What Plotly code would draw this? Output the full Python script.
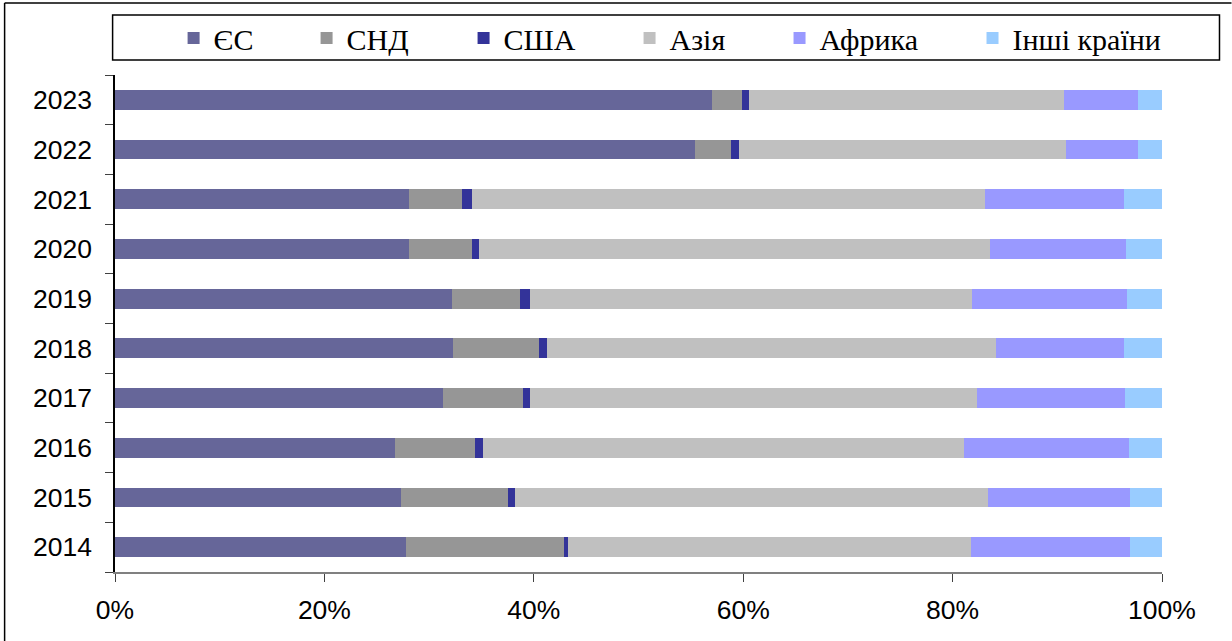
import plotly.graph_objects as go

years = ["2014", "2015", "2016", "2017", "2018", "2019", "2020", "2021", "2022", "2023"]
series_names = ["ЄС", "СНД", "США", "Азія", "Африка", "Інші країни"]

eu = [27.8, 27.3, 26.7, 31.3, 32.3, 32.2, 28.1, 28.1, 55.4, 57.0]
cis = [15.1, 10.2, 7.7, 7.7, 8.2, 6.5, 6.0, 5.0, 3.4, 2.9]
usa = [0.4, 0.7, 0.7, 0.6, 0.8, 0.9, 0.7, 1.0, 0.8, 0.7]
asia = [38.5, 45.2, 46.0, 42.7, 42.8, 42.3, 48.8, 49.0, 31.2, 30.0]
africa = [15.1, 13.5, 15.7, 14.2, 12.3, 14.8, 13.0, 13.3, 6.9, 7.1]
other = [3.1, 3.1, 3.2, 3.5, 3.6, 3.3, 3.4, 3.6, 2.3, 2.3]

x_ticks = [0, 20, 40, 60, 80, 100]
x_tick_labels = ["0%", "20%", "40%", "60%", "80%", "100%"]

colors = ["#666699", "#969696", "#333399", "#C0C0C0", "#9999FF", "#99CCFF"]

W, H = 1232, 641
L, R, T, B = 115.4, 1162.5, 75, 572
PW, PH = R - L, B - T


def px_x(px):
    return (px - L) / PW


def px_y(py):
    return 1 + (T - py) / PH


# left pixel position of each legend entry (one legend per series)
legend_px = [174, 307, 464, 630, 780, 973]
legend_ids = ["legend", "legend2", "legend3", "legend4", "legend5", "legend6"]

fig = go.Figure()
for name, vals, col, lid in zip(series_names, [eu, cis, usa, asia, africa, other], colors, legend_ids):
    fig.add_trace(go.Bar(
        y=years, x=vals, name=name, orientation="h",
        marker=dict(color=col, line=dict(width=0)),
        legend=lid,
    ))

legend_layouts = {}
for lid, lx in zip(legend_ids, legend_px):
    legend_layouts[lid] = dict(
        orientation="h",
        x=px_x(lx), xanchor="left",
        y=px_y(38), yanchor="middle",
        font=dict(family="Liberation Serif", size=30, color="black"),
        bgcolor="rgba(0,0,0,0)",
        borderwidth=0,
    )

fig.update_layout(
    width=W, height=H,
    margin=dict(l=L, r=W - R, t=T, b=H - B, pad=0),
    barmode="stack",
    bargap=0.6,
    plot_bgcolor="white",
    paper_bgcolor="white",
    showlegend=True,
    xaxis=dict(
        range=[0, 100],
        tickvals=x_ticks, ticktext=x_tick_labels,
        showgrid=False, zeroline=False,
        showline=True, linecolor="#808080", linewidth=1.5,
        ticks="outside", ticklen=8, tickcolor="#404040", tickwidth=1.2,
        tickfont=dict(family="Liberation Sans", size=26.5, color="black"),
        ticklabelstandoff=5,
        fixedrange=True,
    ),
    yaxis=dict(
        type="category",
        categoryorder="array", categoryarray=years,
        showgrid=False, zeroline=False,
        showline=True, linecolor="black", linewidth=1.5,
        ticks="outside", ticklen=8, tickcolor="#404040", tickwidth=1.2,
        tickson="boundaries",
        tickfont=dict(family="Liberation Sans", size=26.5, color="black"),
        ticklabelstandoff=16,
        fixedrange=True,
    ),
    shapes=[
        # legend frame
        dict(type="rect", xref="paper", yref="paper",
             x0=px_x(113), x1=px_x(1220), y0=px_y(60), y1=px_y(15),
             line=dict(color="black", width=1.5), fillcolor="rgba(0,0,0,0)", layer="below"),
        # outer frame (top and left)
        dict(type="line", xref="paper", yref="paper",
             x0=px_x(5), x1=px_x(1232), y0=px_y(3), y1=px_y(3),
             line=dict(color="black", width=1.5)),
        dict(type="line", xref="paper", yref="paper",
             x0=px_x(5), x1=px_x(5), y0=px_y(3), y1=px_y(641),
             line=dict(color="black", width=1.5)),
    ],
    **legend_layouts,
)

fig.write_html(
    "out.html",
    config={"displayModeBar": False},
    post_script="document.body.style.margin='0';document.body.style.overflow='hidden';",
)
